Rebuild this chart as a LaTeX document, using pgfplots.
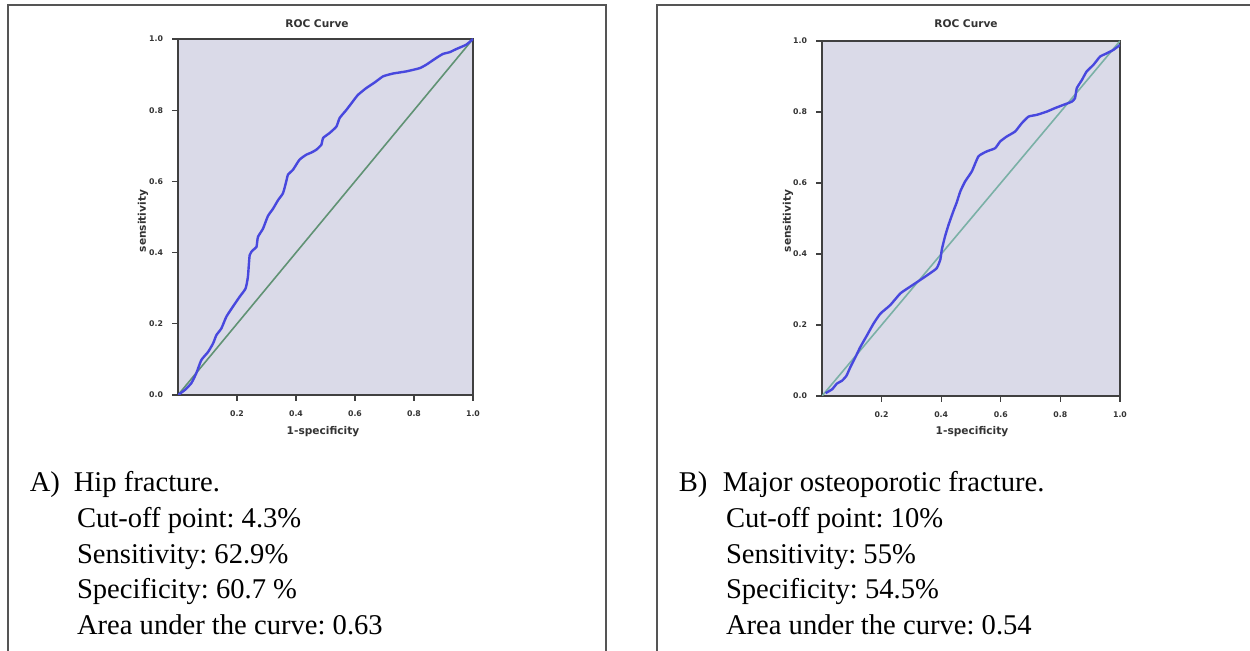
\documentclass[border=0pt]{standalone}
\usepackage{fontspec}
\setmainfont{Liberation Serif}
\newfontfamily\chartfont{DejaVu Sans}
\usepackage{pgfplots}
\usepackage{pgfplotstable}
\pgfplotsset{compat=1.18}

\definecolor{rocbg}{RGB}{218,218,232}
\definecolor{rocblue}{RGB}{72,72,222}
\definecolor{diaggreen}{RGB}{96,146,116}
\definecolor{diagteal}{RGB}{122,176,166}
\definecolor{framegray}{RGB}{85,85,85}

\newcommand\mainfs{\fontsize{14.3}{17.8}\selectfont}
\newcommand\labfs{\chartfont\bfseries\fontsize{5.3}{6}\selectfont}
\newcommand\tickfs{\chartfont\bfseries\fontsize{3.9}{4.5}\selectfont}

% A) hip fracture
\pgfplotstableread{
x y
0 0
0.023 0.014
0.045 0.033
0.062 0.061
0.079 0.098
0.102 0.121
0.119 0.145
0.130 0.168
0.147 0.187
0.164 0.220
0.186 0.248
0.209 0.276
0.229 0.299
0.237 0.332
0.243 0.393
0.254 0.407
0.266 0.416
0.271 0.444
0.288 0.467
0.305 0.503
0.322 0.523
0.339 0.547
0.356 0.567
0.367 0.600
0.373 0.619
0.390 0.633
0.412 0.661
0.435 0.675
0.452 0.681
0.469 0.689
0.486 0.703
0.492 0.722
0.514 0.736
0.537 0.754
0.548 0.778
0.571 0.801
0.593 0.825
0.610 0.843
0.638 0.862
0.667 0.878
0.695 0.895
0.729 0.903
0.774 0.909
0.819 0.918
0.842 0.928
0.876 0.947
0.898 0.958
0.921 0.963
0.944 0.972
0.977 0.984
1 1
}\rocA

% B) major osteoporotic fracture
\pgfplotstableread{
x y
0.012 0.008
0.034 0.019
0.050 0.035
0.067 0.043
0.082 0.057
0.095 0.081
0.112 0.109
0.128 0.137
0.151 0.171
0.173 0.204
0.196 0.232
0.229 0.256
0.263 0.289
0.296 0.308
0.330 0.327
0.363 0.346
0.385 0.360
0.397 0.384
0.402 0.412
0.413 0.450
0.425 0.483
0.441 0.521
0.452 0.545
0.464 0.576
0.480 0.604
0.503 0.633
0.525 0.675
0.553 0.689
0.581 0.698
0.598 0.717
0.620 0.731
0.648 0.745
0.670 0.768
0.693 0.787
0.721 0.792
0.754 0.801
0.782 0.811
0.810 0.820
0.838 0.829
0.849 0.839
0.855 0.867
0.872 0.890
0.888 0.914
0.911 0.933
0.933 0.956
0.955 0.965
0.978 0.975
1.0 0.989
}\rocB

\pgfplotsset{
  rocaxis/.style={
    scale only axis,
    anchor=south west,
    xmin=0, xmax=1, ymin=0, ymax=1,
    axis background/.style={fill=rocbg},
    axis line style={draw=black!75, line width=1pt},
    tick pos=left,
    tick align=outside,
    major tick length=3pt,
    tick style={black!75, line width=0.6pt},
    xtick={0.2,0.4,0.6,0.8,1},
    ytick={0,0.2,0.4,0.6,0.8,1},
    xticklabels={0.2,0.4,0.6,0.8,1.0},
    yticklabels={0.0,0.2,0.4,0.6,0.8,1.0},
    tick label style={font=\tickfs, text=black!80},
    xticklabel style={yshift=-1.5pt},
    yticklabel style={xshift=-1pt},
  },
}

\begin{document}
\frenchspacing
\begin{tikzpicture}
\useasboundingbox (0pt,0pt) rectangle (625pt,-325.5pt);

% panel frames, open at the bottom
\begin{scope}
  \clip (0pt,0pt) rectangle (625pt,-325.5pt);
  \draw[framegray, line width=1pt]
    (4.2pt,-340pt) -- (4.2pt,-2.3pt) -- (302.8pt,-2.3pt) -- (302.8pt,-340pt);
  \draw[framegray, line width=1pt]
    (328.3pt,-340pt) -- (328.3pt,-2.3pt) -- (640pt,-2.3pt);
\end{scope}

\begin{axis}[rocaxis, at={(89pt,-197.5pt)}, width=147.5pt, height=178pt]
  \addplot[diaggreen, line width=0.8pt] coordinates {(0,0) (1,1)};
  \addplot[rocblue, line width=1.2pt, smooth, tension=0.3] table {\rocA};
\end{axis}

\begin{axis}[rocaxis, at={(411pt,-198pt)}, width=149pt, height=177.5pt]
  \addplot[diagteal, line width=0.8pt] coordinates {(0,0) (1,1)};
  \addplot[rocblue, line width=1.2pt, smooth, tension=0.3] table {\rocB};
\end{axis}

% chart titles and axis labels
\node[font=\labfs, text=black!80] at (158.5pt,-12pt) {ROC Curve};
\node[font=\labfs, text=black!80] at (161.5pt,-216pt) {1-specificity};
\node[font=\labfs, text=black!80, rotate=90] at (71.5pt,-110.5pt) {sensitivity};
\node[font=\labfs, text=black!80] at (483pt,-12pt) {ROC Curve};
\node[font=\labfs, text=black!80] at (486pt,-216pt) {1-specificity};
\node[font=\labfs, text=black!80, rotate=90] at (394pt,-110.5pt) {sensitivity};

% captions
\begin{scope}[every node/.style={anchor=base west, font=\mainfs, inner sep=0pt}]
  \node at (14.7pt,-246pt) {A)};
  \node at (36.7pt,-246pt) {Hip fracture.};
  \node at (38.3pt,-263.8pt) {Cut-off point: 4.3\%};
  \node at (38.3pt,-281.6pt) {Sensitivity: 62.9\%};
  \node at (38.3pt,-299.4pt) {Specificity: 60.7 \%};
  \node at (38.3pt,-317.2pt) {Area under the curve: 0.63};

  \node at (339.2pt,-246pt) {B)};
  \node at (361.2pt,-246pt) {Major osteoporotic fracture.};
  \node at (362.8pt,-263.8pt) {Cut-off point: 10\%};
  \node at (362.8pt,-281.6pt) {Sensitivity: 55\%};
  \node at (362.8pt,-299.4pt) {Specificity: 54.5\%};
  \node at (362.8pt,-317.2pt) {Area under the curve: 0.54};
\end{scope}
\end{tikzpicture}
\end{document}
